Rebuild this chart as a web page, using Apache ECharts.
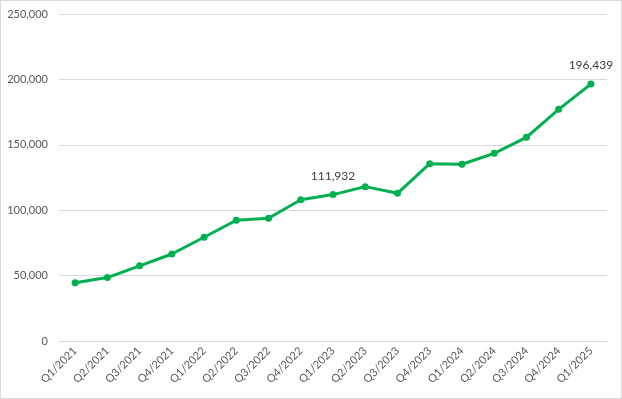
<!DOCTYPE html>
<html>
<head>
<meta charset="utf-8">
<script src="https://cdn.jsdelivr.net/npm/echarts@6/dist/echarts.min.js"></script>
<style>
  html, body { margin: 0; padding: 0; background: #fff; }
  #chart { width: 622px; height: 399px; box-sizing: border-box; border: 1px solid #d9d9d9; }
</style>
</head>
<body>
<div id="chart"></div>
<script>
// quarters shown on x axis
var quarters = ['Q1/2021','Q2/2021','Q3/2021','Q4/2021','Q1/2022','Q2/2022','Q3/2022','Q4/2022',
  'Q1/2023','Q2/2023','Q3/2023','Q4/2023','Q1/2024','Q2/2024','Q3/2024','Q4/2024','Q1/2025'];
// values per quarter
var values = [44500, 48500, 57500, 66500, 79300, 92300, 93800, 108000,
  111932, 118000, 112900, 135600, 135100, 143500, 155700, 177100, 196439];
// quarters that carry a data label
var labelled = ['Q1/2023', 'Q1/2025'];

var fontFam = 'Lato, "Open Sans", sans-serif';

var seriesData = [];
for (var i = 0; i < values.length; i++) {
  var item = { value: values[i] };
  if (labelled.indexOf(quarters[i]) != -1) {
    item.label = { show: true };
  }
  seriesData.push(item);
}

var myChart = echarts.init(document.getElementById('chart'));
var option = {
  animation: false,
  grid: { left: 58, right: 14, top: 13, bottom: 57, containLabel: false },
  xAxis: {
    type: 'category',
    data: quarters,
    boundaryGap: true,
    axisLine: { lineStyle: { color: '#d9d9d9', width: 1 } },
    axisTick: { show: false },
    axisLabel: {
      rotate: 45,
      color: '#595959',
      fontSize: 11,
      fontFamily: fontFam,
      margin: 8,
      interval: 0
    }
  },
  yAxis: {
    type: 'value',
    min: 0,
    max: 250000,
    interval: 50000,
    axisLine: { show: false },
    axisTick: { show: false },
    splitLine: { lineStyle: { color: '#d9d9d9', width: 1 } },
    axisLabel: {
      color: '#595959',
      fontSize: 11,
      fontFamily: fontFam,
      margin: 11,
      formatter: function (v) { return v.toLocaleString('en-US'); }
    }
  },
  series: [{
    type: 'line',
    data: seriesData,
    symbol: 'circle',
    symbolSize: 7,
    lineStyle: { color: '#00b050', width: 3 },
    itemStyle: { color: '#00b050' },
    label: {
      show: false,
      position: 'top',
      distance: 9,
      color: '#404040',
      fontSize: 12,
      fontFamily: fontFam,
      formatter: function (p) { return p.value.toLocaleString('en-US'); }
    }
  }]
};
myChart.setOption(option);
</script>
</body>
</html>
